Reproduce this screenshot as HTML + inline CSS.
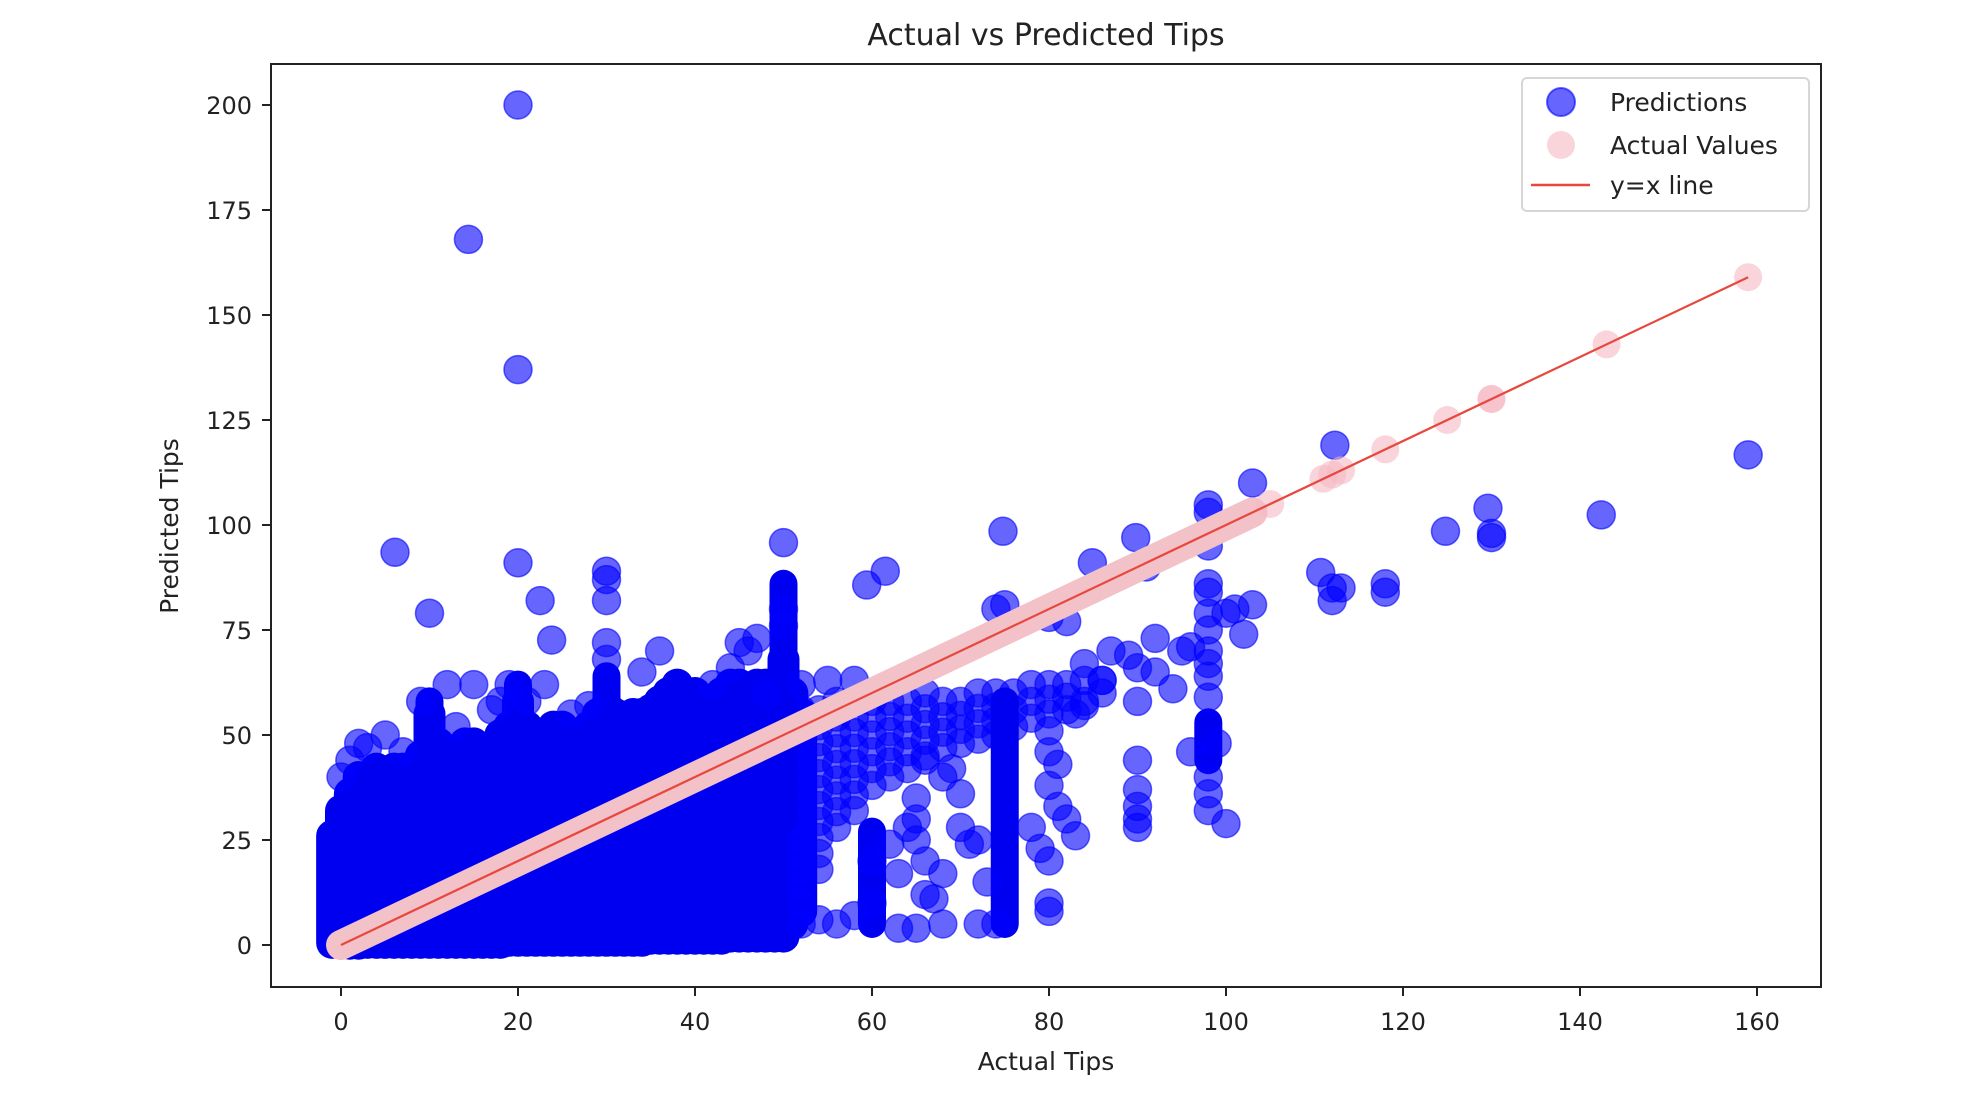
<!DOCTYPE html>
<html><head><meta charset="utf-8"><style>
html,body{margin:0;padding:0;background:#fff;}
svg{display:block;font-family:"DejaVu Sans","Liberation Sans",sans-serif;}
</style></head><body>
<svg id="chart" width="1965" height="1120" viewBox="0 0 1965 1120" xmlns="http://www.w3.org/2000/svg">
<rect width="1965" height="1120" fill="#fff"/>
<text x="1046" y="45" font-size="30" text-anchor="middle" fill="#222">Actual vs Predicted Tips</text>
<text x="1046" y="1070" font-size="25" text-anchor="middle" fill="#222">Actual Tips</text>
<text x="0" y="0" font-size="25" text-anchor="middle" fill="#222" transform="translate(178,526) rotate(-90)">Predicted Tips</text>
<defs><clipPath id="plotclip"><rect x="271" y="64" width="1550" height="923"/></clipPath></defs>
<g id="plot" clip-path="url(#plotclip)"></g>
<g id="axes"></g>
<g id="legend">
<rect x="1522" y="78" width="287" height="133" rx="5" fill="#fff" fill-opacity="0.8" stroke="#d6d6d6" stroke-width="2"/>
<circle cx="1561" cy="102" r="14" fill="rgba(0,0,255,0.6)" stroke="rgba(0,0,255,0.6)" stroke-width="2"/>
<text x="1610" y="111" font-size="25" fill="#222">Predictions</text>
<circle cx="1561" cy="145" r="14" fill="rgba(245,185,195,0.6)"/>
<text x="1610" y="154" font-size="25" fill="#222">Actual Values</text>
<line x1="1531" y1="185" x2="1590" y2="185" stroke="#e8473d" stroke-width="2.5"/>
<text x="1610" y="194" font-size="25" fill="#222">y=x line</text>
</g>
</svg>
<script>
// ---- data ----
const xTicks = [0,20,40,60,80,100,120,140,160];
const yTicks = [0,25,50,75,100,125,150,175,200];
// dense prediction block: per actual-tip column, predicted range
const denseX  = [-1,0,1,2,3,4,5,6,7,8,9,10,11,12,13,14,15,16,17,18,19,20,21,22,23,24,25,26,27,28,29,30,31,32,33,34,35,36,37,38,39,40,41,42,43,44,45,46,47,48,49,50,51,52];
const denseLo = [0.5,0.3,0.3,0.3,0.5,0.5,0.5,0.5,0.5,0.5,0.5,0.5,0.5,0.5,0.5,0.5,0.5,0.5,0.5,0.5,1,1,1,1,1,1,1,1,1,1,1,1,1,1,1,1,1.5,1.5,1.5,1.5,1.5,1.5,1.5,1.5,1.5,2,2,2,2,2,2,2,5,8];
const denseHi = [26,32,36,40,36,42,40,42,42,42,45,55,48,45,45,48,48,47,47,50,52,58,52,48,50,52,52,50,50,52,55,57,55,52,55,55,56,58,60,62,60,60,58,58,60,62,62,60,62,62,62,68,60,55];
// secondary band right of block
const bandX  = [52,54,56,58,60,62,64,66,68,70,72,74,76,78,80,82,84,86];
const bandLo = [10,18,28,32,38,40,42,45,47,48,49,50,52,54,55,56,58,60];
const bandHi = [56,56,58,58,58,58,58,60,58,58,60,60,60,62,62,62,63,63];
// vertical stacks
const stackX  = [60,75,98,10,20,30,50];
const stackLo = [5,5,44,30,30,30,30];
const stackHi = [27,58,53,58,62,64,86];
// individual predictions (actual, predicted)
const ptX = [20,14.4,20,6.1,10,20,22.5,23.8,30,30,30,30,30,50,50,50,59.4,61.5,74.8,75,74,80,82,84.9,89.8,91,98,98,98,98,98,98,98,98,98,98,98,98,98,98,100,100,99,101,103,102,103,110.7,112,112,113,112.3,118,118,124.8,129.6,130,130,142.4,159,
 92,95,96,94,90,90,89,92,96,90,90,90,90,90,84,86,87,84,83,
 80,80,81,80,81,82,83,80,79,80,80,78,
 63,65,66,67,68,70,71,72,73,72,74,70,68,69,66,64,62,60,58,56,54,52,63,68,60,66,65,65,65,
 3,5,7,12,15,18,9,26,28,34,36,42,44,46,47,45,48,52,55,58,19,21,23,2,0,1,13,17];
const ptY = [200,168,137,93.5,79,91,82,72.6,89,87,82,72,68,95.8,80,76,85.7,89,98.5,81,80,78,77,91,97,90,104.8,103,95,86,84,79,75,70,67,64,59,40,36,32,79,28.9,48,80,81,74,110,88.7,82,85,85,119,86,84,98.5,104,97,98,102.4,116.7,
 73,70,71,61,58,66,69,65,46,44,37,33,30,28,67,63,70,57,55,
 51,46,43,38,33,30,26,20,23,10,8,28,
 4,4,12,11,5,36,24,25,15,5,5,28,40,42,44,28,24,10,7,5,6,5,17,17,20,20,35,30,25,
 47,50,46,62,62,58,58,55,57,65,70,62,66,70,73,72,60,62,63,63,62,58,62,48,40,44,52,56];
// actual values (shown as y = x)
const actualDenseMax = 103;
const actualPts = [105,111,112,113,118,125,130,130,143,159];

// ---- scales ----
const X0=341, XS=8.85, Y0=945, YS=4.2;
const sx = v => X0 + v*XS;
const sy = v => Y0 - v*YS;
const NS='http://www.w3.org/2000/svg';
const plot=document.getElementById('plot'), axes=document.getElementById('axes');
function mk(tag, attrs, parent){const e=document.createElementNS(NS,tag);for(const k in attrs)e.setAttribute(k,attrs[k]);parent.appendChild(e);return e;}

const R=14;
for(let i=0;i<denseX.length;i++){
  const l=mk('line',{x1:sx(denseX[i]),x2:sx(denseX[i]),y1:sy(denseLo[i]),y2:sy(denseHi[i]),stroke:'#0000f0','stroke-width':2*R+4,'stroke-linecap':'round'},plot);
  
  
}
for(let i=0;i<bandX.length;i++){
  for(let v=bandLo[i]; v<=bandHi[i]+0.01; v+=(bandHi[i]-bandLo[i])/Math.max(1,Math.round((bandHi[i]-bandLo[i])/4))){
    const c=mk('circle',{cx:sx(bandX[i]),cy:sy(v),r:R,fill:'rgba(0,0,255,0.6)',stroke:'rgba(0,0,255,0.6)','stroke-width':1.5},plot);
    
    
  }
}
for(let i=0;i<stackX.length;i++){
  const l=mk('line',{x1:sx(stackX[i]),x2:sx(stackX[i]),y1:sy(stackLo[i]),y2:sy(stackHi[i]),stroke:'#0000f0','stroke-width':2*R,'stroke-linecap':'round'},plot);
  
  
}
for(let i=0;i<ptX.length;i++){
  const c=mk('circle',{cx:sx(ptX[i]),cy:sy(ptY[i]),r:R,fill:'rgba(0,0,255,0.6)',stroke:'rgba(0,0,255,0.6)','stroke-width':1.5},plot);
  
  
}
// actual values
const band=mk('line',{x1:sx(0),y1:sy(0),x2:sx(actualDenseMax),y2:sy(actualDenseMax),stroke:'#f3c1c8','stroke-width':2*R+2,'stroke-linecap':'round'},plot);


for(const a of actualPts){
  const c=mk('circle',{cx:sx(a),cy:sy(a),r:R,fill:'rgba(245,185,195,0.6)'},plot);
  
  
}
const ref=mk('line',{x1:sx(0),y1:sy(0),x2:sx(159),y2:sy(159),stroke:'#e8473d','stroke-width':2.2},plot);



// axes
const frame=mk('rect',{x:271,y:64,width:1550,height:923,fill:'none',stroke:'#222','stroke-width':2},axes);


for(const t of xTicks){
  const tk=mk('line',{x1:sx(t),x2:sx(t),y1:987,y2:996,stroke:'#222','stroke-width':2},axes);
  
  
  const tx=mk('text',{x:sx(t),y:1030,'font-size':24,'text-anchor':'middle',fill:'#222'},axes);
  tx.textContent=t;
  
  
}
for(const t of yTicks){
  const tk=mk('line',{x1:262,x2:271,y1:sy(t),y2:sy(t),stroke:'#222','stroke-width':2},axes);
  
  
  const tx=mk('text',{x:252,y:sy(t)+9,'font-size':24,'text-anchor':'end',fill:'#222'},axes);
  tx.textContent=t;
  
  
}
</script>
</body></html>
